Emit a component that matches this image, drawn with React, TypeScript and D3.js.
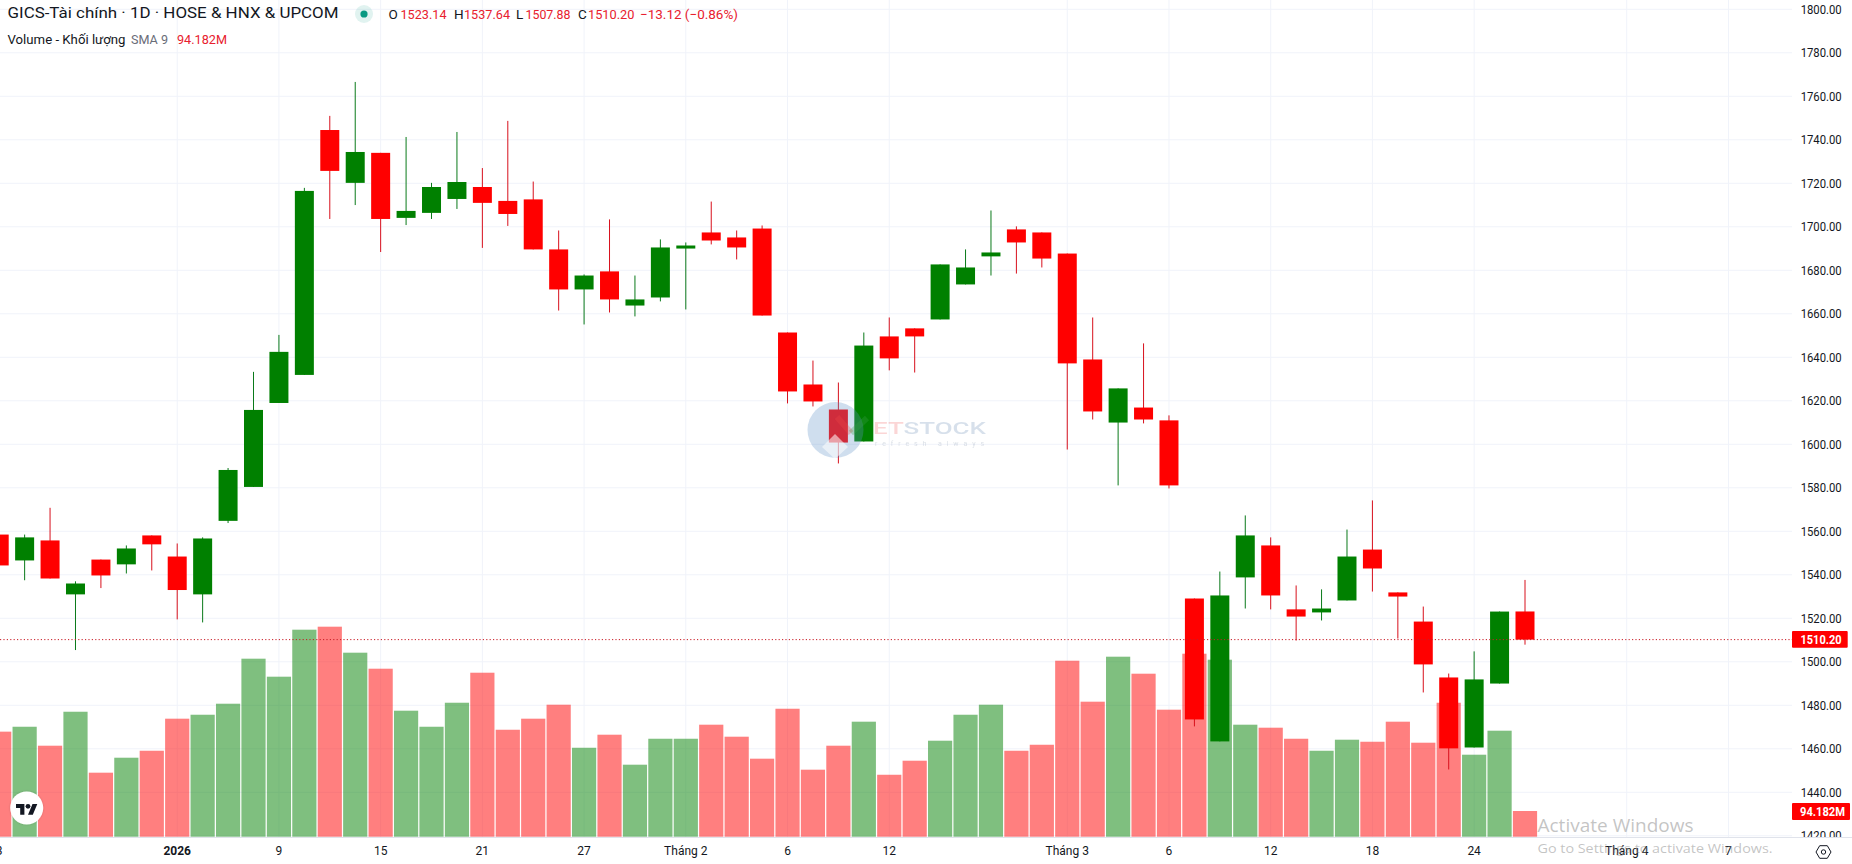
import React from "react";
import * as d3 from "d3";

const opens = [1558.5,1546.6,1555.8,1531,1547,1544.8,1558.1,1548.4,1531,1564.8,1580.4,1619,1631.9,1744.5,1720.2,1734,1704.1,1706.4,1712.8,1718.3,1711.9,1712.6,1689.6,1671.2,1679.5,1663.8,1667.5,1690,1697.4,1695.1,1699.2,1651.4,1627.5,1616,1601.3,1649.6,1653.3,1657.4,1673.5,1686.4,1698.8,1697.4,1687.7,1639,1610,1616.9,1611,1529.1,1463.4,1538.8,1553.5,1524.1,1522.7,1528.2,1551.6,1531.9,1518.5,1492.8,1460.6,1490,1523.14];
const highs = [1558.5,1558.5,1570.8,1537,1547,1553.5,1558.1,1554.4,1557.2,1589.1,1633.3,1650.3,1717.9,1751,1766.6,1734,1741.3,1720.2,1743.6,1727,1748.7,1720.8,1698.3,1678.1,1703.4,1677.6,1694.2,1692.8,1711.6,1698.3,1700.6,1651.4,1638.5,1628.4,1651.4,1658.3,1653.3,1682.7,1689.6,1707.5,1700.2,1697.4,1687.7,1658.3,1625.7,1646.4,1613.3,1529.1,1541.5,1567.3,1557.2,1535.1,1533.3,1560.8,1574.2,1531.9,1525.4,1494.6,1504.8,1523.1,1537.64];
const lows = [1544,1537.5,1538.3,1505.4,1533.9,1540.6,1542,1519.5,1518.1,1563.8,1580.4,1619,1631.9,1703.6,1710,1688.4,1700.8,1703.6,1708.2,1690.3,1700.4,1689.6,1661.5,1655.1,1660.6,1658.8,1665.7,1662,1691.9,1685,1659.2,1618.8,1617.4,1591.2,1601.3,1634,1633,1657.4,1673.5,1677.6,1678.5,1681.3,1597.6,1611.4,1581.1,1609.6,1579.7,1470.3,1463.4,1524.5,1524.1,1509.8,1519,1528.2,1532.3,1510.7,1485.9,1450.5,1460.6,1490,1507.88];
const closes = [1544.3,1557.2,1538.3,1536,1539.7,1552.1,1554,1533,1556.7,1588.2,1615.8,1642.5,1716.5,1725.7,1734.4,1703.6,1707.3,1718.3,1720.6,1711,1705.9,1689.6,1671.2,1677.6,1666.6,1666.6,1690.5,1691.4,1693.7,1690.5,1659.2,1624.3,1619.7,1600.8,1645.4,1639.5,1649.6,1682.7,1681.3,1688.2,1692.8,1685.4,1637.2,1615.1,1625.7,1611.4,1581.1,1473.5,1530.5,1558.1,1530.5,1520.8,1524.5,1548.4,1542.9,1530,1498.8,1460.2,1491.9,1523.1,1510.2];
const volumes = [385,403,333.5,458,234.6,289.5,315,432.5,447,487.4,652.4,586.4,758.7,769.7,674.4,615.7,461.8,403,491,601,392,432.5,483.8,326,373.8,263.9,359,359,410.5,366.5,285.9,469,245.6,333.5,421.5,227,278.5,351.8,447,483.8,315,337,645,494.8,659.7,597.4,465.5,670.7,648.7,410.5,399.5,359,315,355.5,348,421.5,344.5,491,300.5,388.5,94.182];

const priceTicks = [1800,1780,1760,1740,1720,1700,1680,1660,1640,1620,1600,1580,1560,1540,1520,1500,1480,1460,1440,1420];
const timeTickIndex = [0,7,11,15,19,23,27,31,35,42,46,50,54,58,64,68];
const timeTickLabel = ["3","2026","9","15","21","27","Tháng 2","6","12","Tháng 3","6","12","18","24","Tháng 4","7"];
const lastClose = 1510.2;
const lastVolumeLabel = "94.182M";

const W = 1852, H = 864, PLOT_R = 1792, PLOT_B = 837;
const FONT = "Roboto, sans-serif";
const UP = "#008000", DOWN = "#ff0000";

const x = d3.scaleLinear().domain([0, 60]).range([-0.8, 1525.0]);
const y = d3.scaleLinear().domain([1800, 1420]).range([9.3, 835.8]);
const yv = d3.scaleLinear().domain([0, 800]).range([836.7, 836.7 - 800 / 3.665]);

export default function App() {
  const bw = 19;
  const vw = 24.2;
  return (
    <svg width={W} height={H} viewBox={`0 0 ${W} ${H}`}
      style={{ position: "fixed", left: 0, top: 0, background: "#fff", display: "block" }} fontFamily={FONT}>
      <defs>
        <clipPath id="plot"><rect x={0} y={0} width={PLOT_R} height={PLOT_B} /></clipPath>
        <clipPath id="axisClip"><rect x={PLOT_R} y={0} width={W - PLOT_R} height={PLOT_B} /></clipPath>
        <filter id="sh" x="-30%" y="-30%" width="160%" height="160%">
          <feDropShadow dx={0} dy={0} stdDeviation={1.2} floodColor="#000" floodOpacity={0.18} />
        </filter>
      </defs>
      <rect width={W} height={H} fill="#fff" />

      <g clipPath="url(#plot)">
        {priceTicks.map((p) => (
          <line key={p} x1={0} x2={PLOT_R} y1={y(p)} y2={y(p)} stroke="#f0f3fa" strokeWidth={1} />
        ))}
        {timeTickIndex.map((i) => (
          <line key={i} x1={x(i)} x2={x(i)} y1={0} y2={PLOT_B} stroke="#f0f3fa" strokeWidth={1} />
        ))}
        {volumes.map((v, i) => (
          <rect key={i} x={x(i) - vw / 2} y={yv(v)} width={vw} height={yv(0) - yv(v)}
            fill={closes[i] >= opens[i] ? UP : DOWN} fillOpacity={0.5} />
        ))}
        {opens.map((o, i) => {
          const c = closes[i];
          const col = c >= o ? UP : DOWN;
          const top = y(Math.max(o, c));
          const bot = y(Math.min(o, c));
          return (
            <g key={i}>
              <line x1={x(i)} x2={x(i)} y1={y(highs[i])} y2={y(lows[i])}
                stroke={col === UP ? "#0a7a1a" : "#d8101c"} strokeWidth={1} />
              <rect x={x(i) - bw / 2} y={top} width={bw} height={Math.max(bot - top, 1)} fill={col} />
            </g>
          );
        })}
        <line x1={0} x2={PLOT_R} y1={y(lastClose)} y2={y(lastClose)} stroke="#c81a24" strokeWidth={1} strokeDasharray="1.2 2.2" />
      </g>

      {/* watermark */}
      <g>
        <circle cx={835.5} cy={430} r={28} fill="#5f93c8" opacity={0.3} />
        <path d="M822 447 L835 434 L848 447 L835 459 Z" fill="#fff" opacity={0.55} />
        <path d="M837 417 L851 433" stroke="#f04a4a" strokeWidth={6} fill="none" opacity={0.3} />
        <path d="M851 433 L867 418" stroke="#3aa04a" strokeWidth={6} fill="none" opacity={0.3} />
        <text x={873} y={434} fontSize={17} fontWeight={500} textLength={113} lengthAdjust="spacingAndGlyphs" opacity={0.22}>
          <tspan fill="#f04a4a">ET</tspan><tspan fill="#4f78a8">STOCK</tspan>
        </text>
        <text x={875} y={446} fontSize={7} fill="#8a9ab0" textLength={109} opacity={0.3}>refresh always</text>
      </g>

      {/* TradingView badge */}
      <g>
        <circle cx={26.7} cy={808} r={16.5} fill="#fff" filter="url(#sh)" />
        <g transform="translate(16 801.5) scale(0.6)">
          <path d="M14 22H7V11H0V4h14v18zM28 22h-8l7.5-18h8L28 22z" fill="#131722" />
          <circle cx={20} cy={8} r={4} fill="#131722" />
        </g>
      </g>

      {/* legend */}
      <g fontSize={14.5} dominantBaseline="central">
        <text x={7.5} y={13.5} fill="#131722" textLength={331} lengthAdjust="spacingAndGlyphs">GICS-Tài chính · 1D · HOSE &amp; HNX &amp; UPCOM</text>
        <circle cx={364} cy={14} r={9} fill="#089981" fillOpacity={0.12} />
        <circle cx={364} cy={14} r={3.6} fill="#089981" />
        <g fontSize={13.5}>
          <text x={388.5} y={14} fill="#131722">O</text>
          <text x={400.5} y={14} fill="#e8202e" textLength={46} lengthAdjust="spacingAndGlyphs">1523.14</text>
          <text x={454} y={14} fill="#131722">H</text>
          <text x={464} y={14} fill="#e8202e" textLength={46} lengthAdjust="spacingAndGlyphs">1537.64</text>
          <text x={516} y={14} fill="#131722">L</text>
          <text x={525.5} y={14} fill="#e8202e" textLength={45} lengthAdjust="spacingAndGlyphs">1507.88</text>
          <text x={578} y={14} fill="#131722">C</text>
          <text x={588} y={14} fill="#e8202e" textLength={46.5} lengthAdjust="spacingAndGlyphs">1510.20</text>
          <text x={640} y={14} fill="#e8202e" textLength={98} lengthAdjust="spacingAndGlyphs">−13.12 (−0.86%)</text>
        </g>
        <g fontSize={13.5}>
          <text x={7.5} y={38.5} fill="#131722" textLength={118} lengthAdjust="spacingAndGlyphs">Volume - Khối lượng</text>
          <text x={131} y={38.5} fill="#6a6d78" textLength={37} lengthAdjust="spacingAndGlyphs">SMA 9</text>
          <text x={177} y={38.5} fill="#e8202e" textLength={50} lengthAdjust="spacingAndGlyphs">{lastVolumeLabel}</text>
        </g>
      </g>

      {/* price axis */}
      <g clipPath="url(#axisClip)">
        {priceTicks.map((p) => (
          <text key={p} x={1800.7} y={y(p)} fontSize={12.5} fill="#131722" dominantBaseline="central"
            textLength={41} lengthAdjust="spacingAndGlyphs">{p.toFixed(2)}</text>
        ))}
      </g>
      <rect x={1792} y={631} width={55.7} height={16.7} rx={1} fill="#ff0000" />
      <text x={1800.5} y={y(lastClose) + 0.3} fontSize={12.5} fontWeight={700} fill="#fff" dominantBaseline="central"
        textLength={41} lengthAdjust="spacingAndGlyphs">{lastClose.toFixed(2)}</text>
      <rect x={1792} y={803} width={58} height={17} rx={1} fill="#ff0000" />
      <text x={1800} y={811.7} fontSize={12.5} fontWeight={700} fill="#fff" dominantBaseline="central"
        textLength={45} lengthAdjust="spacingAndGlyphs">{lastVolumeLabel}</text>

      {/* time axis */}
      <line x1={0} x2={W} y1={PLOT_B + 0.5} y2={PLOT_B + 0.5} stroke="#e0e3eb" strokeWidth={1} />
      {timeTickIndex.map((i, k) => (
        <text key={i} x={x(i)} y={851} fontSize={12} textAnchor="middle" dominantBaseline="central"
          fill="#131722" fontWeight={timeTickLabel[k] === "2026" ? 700 : 400}>{timeTickLabel[k]}</text>
      ))}

      {/* settings */}
      <g transform="translate(1823.5 852)" fill="none" stroke="#131722" strokeWidth={1}>
        <path d="M-7.5 0 L-3.8 -6.3 L3.8 -6.3 L7.5 0 L3.8 6.3 L-3.8 6.3 Z" />
        <circle r={2.2} />
      </g>

      {/* OS overlay */}
      <g fill="#8a8a8a" fillOpacity={0.5} fontFamily="'Open Sans', sans-serif">
        <text x={1537.5} y={832} fontSize={18} textLength={156} lengthAdjust="spacingAndGlyphs">Activate Windows</text>
        <text x={1537.5} y={853} fontSize={13} textLength={235} lengthAdjust="spacingAndGlyphs">Go to Settings to activate Windows.</text>
      </g>
    </svg>
  );
}
